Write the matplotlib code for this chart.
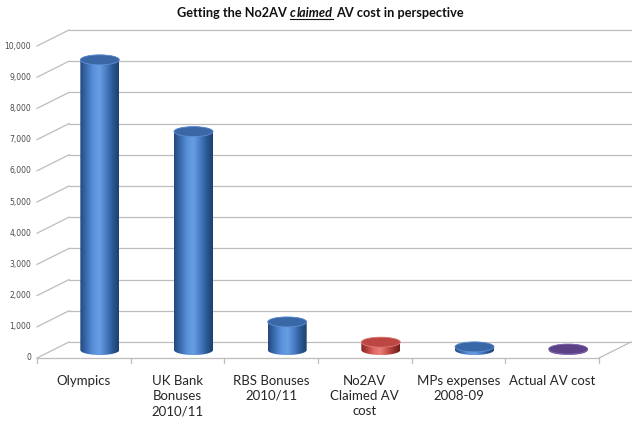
import numpy as np
import matplotlib.pyplot as plt
from matplotlib.colors import LinearSegmentedColormap
from matplotlib.patches import Ellipse, Polygon
from matplotlib.lines import Line2D

# data
categories = ["Olympics", "UK Bank\nBonuses\n2010/11", "RBS Bonuses\n2010/11",
              "No2AV\nClaimed AV\ncost", "MPs expenses\n2008-09", "Actual AV cost"]
values = [9300, 7000, 900, 250, 100, 30]
bar_styles = ["blue", "blue", "blue", "red", "blue", "purple"]
yticks = list(range(0, 10001, 1000))
ytick_labels = [f"{v:,}" for v in yticks]

# colour sets: body gradient (left -> right), top cap, cap rim
styles = {
    "blue": (["#24487c", "#3a6cb0", "#5a90da", "#689ee4", "#4a7ec4", "#2c5a96", "#1f3f6e"],
             "#3a67a5", "#5f8fd4"),
    "red": (["#7e2624", "#b8433f", "#e06a65", "#e8807a", "#cc524d", "#9c3431", "#6e1f1d"],
            "#bb4642", "#e07c77"),
    "purple": (["#3f2a60", "#5e4388", "#7f62ad", "#8b6fb8", "#6c509a", "#52397a", "#392656"],
               "#5b4286", "#8468b2"),
}

W, H = 640, 428
fig = plt.figure(figsize=(6.4, 4.28), dpi=100)
ax = fig.add_axes([0, 0, 1, 1])
ax.axis("off")

# front face of the plot in pixels
x0_px, x1_px = 37, 599
y0_px, ytop_px = 358, 46
n = len(categories)
sx = (x1_px - x0_px) / n
sy = (y0_px - ytop_px) / 10000
xlim = (-x0_px / sx, (W - x0_px) / sx)
ylim = (-(H - y0_px) / sy, y0_px / sy)

# depth offset of the back wall
ox = 32 / sx
oy = 16 / sy

grid_c = "#bdbdbd"
for v in yticks:
    ax.plot([ox, n + ox], [v + oy, v + oy], color=grid_c, lw=0.9, zorder=1)
    ax.plot([0, ox], [v, v + oy], color=grid_c, lw=0.9, zorder=1)
ax.plot([0, n], [0, 0], color=grid_c, lw=0.9, zorder=1)
ax.plot([n, n + ox], [0, oy], color=grid_c, lw=0.9, zorder=1)
for k in range(n + 1):
    ax.plot([k, k], [0, -5 / sy], color=grid_c, lw=0.9, zorder=1)

for v, lab in zip(yticks, ytick_labels):
    ax.text(-6 / sx, v, lab, ha="right", va="center", fontsize=5.5,
            color="#4a4a4a", family="DejaVu Sans")

for i, lab in enumerate(categories):
    ax.text(i + 0.5, -17 / sy, lab, ha="center", va="top", fontsize=9.5,
            color="#262626", family="Lato", linespacing=1.3)

# cylinders
w = 39 / sx
eh = 10 / sy
base = oy / 2


def cylinder(xc, top, style):
    body_cols, top_c, rim_c = styles[style]
    cmap = LinearSegmentedColormap.from_list(style, body_cols)
    t1 = np.linspace(np.pi, 2 * np.pi, 80)
    t2 = np.linspace(0, np.pi, 80)
    xs = np.r_[xc + w / 2 * np.cos(t1), xc + w / 2 * np.cos(t2)]
    ys = np.r_[base + eh / 2 * np.sin(t1), top + eh / 2 * np.sin(t2)]
    body = Polygon(np.column_stack([xs, ys]), closed=True, facecolor="none",
                   edgecolor="none", zorder=3)
    ax.add_patch(body)
    grad = np.linspace(0, 1, 256).reshape(1, -1)
    im = ax.imshow(grad, cmap=cmap, aspect="auto", origin="lower", zorder=3,
                   extent=[xc - w / 2, xc + w / 2, base - eh, top + eh])
    im.set_clip_path(body)
    ax.add_patch(Ellipse((xc, top), w, eh, facecolor=top_c, edgecolor=rim_c,
                         lw=0.6, zorder=4))


for i, (v, st) in enumerate(zip(values, bar_styles)):
    cylinder(i + 0.5 + ox / 2, base + v, st)

ax.set_xlim(*xlim)
ax.set_ylim(*ylim)

# title with italic underlined word ("c" kept apart so it does not merge with "l")
parts = [("Getting the No2AV", "normal", 3.4), ("c", "italic", 1.0),
         ("laimed", "italic", 3.2), ("AV cost in perspective", "normal", 0)]
tp = dict(fontsize=9.2, fontweight="bold", family="Lato", color="#111111", va="center")
fig.canvas.draw()
r = fig.canvas.get_renderer()
texts = [fig.text(0, 0, s, style=st, **tp) for s, st, _ in parts]
widths = [t.get_window_extent(r).width for t in texts]
total = sum(widths) + sum(g for _, _, g in parts)
x = (W - total) / 2
ty = H - 13
starts = []
for t, wd, (_, _, g) in zip(texts, widths, parts):
    starts.append(x)
    t.set_position((x / W, ty / H))
    x += wd + g
u0, u1 = starts[1], starts[2] + widths[2]
fig.add_artist(Line2D([u0 / W, u1 / W], [(ty - 6) / H, (ty - 6) / H],
                      color="#111111", lw=0.8, transform=fig.transFigure))

fig.savefig("out.png", dpi=100)
